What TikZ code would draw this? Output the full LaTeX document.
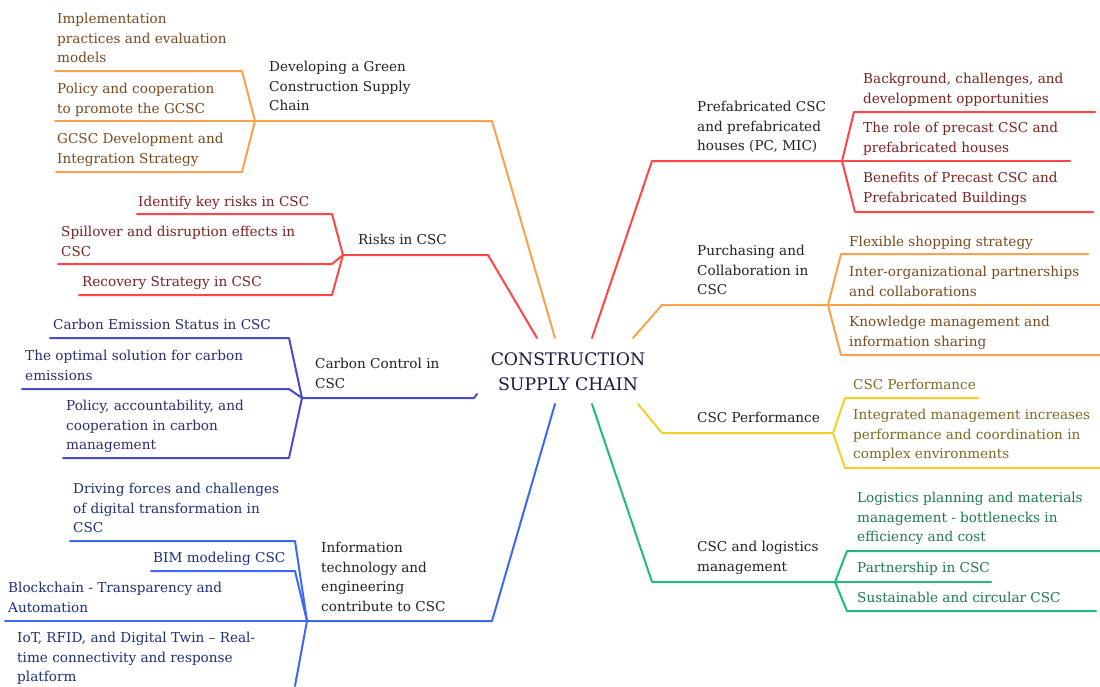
\documentclass[tikz,border=0pt]{standalone}
\usepackage{fontspec}
\setmainfont{DejaVu Serif}
\definecolor{lred}{HTML}{FF4545}
\definecolor{lorange}{HTML}{F9A24E}
\definecolor{lyellow}{HTML}{F5D028}
\definecolor{lgreen}{HTML}{22BB7A}
\definecolor{lblue}{HTML}{3F68F2}
\definecolor{lviolet}{HTML}{4A4AD0}
\definecolor{tbrown}{HTML}{7A4A1F}
\definecolor{tred}{HTML}{7B2222}
\definecolor{tnavy}{HTML}{2D2D6E}
\definecolor{tblue}{HTML}{1F2F7A}
\definecolor{tolive}{HTML}{7A6A22}
\definecolor{tgreen}{HTML}{1F7A50}
\definecolor{tmain}{HTML}{222222}
\definecolor{tcenter}{HTML}{1A1A3A}
\begin{document}
\begin{tikzpicture}[x=1pt,y=-1pt,
  branch/.style={line width=2pt,line join=round,line cap=round},
  leaf/.style={anchor=north west,inner sep=0pt,align=left,
    font=\fontsize{13.6}{19.5}\selectfont},
  topic/.style={leaf,text=tmain}]
\useasboundingbox[fill=white] (0,0) rectangle (1100,686);

% ---------- centre ----------
\node[align=center,text=tcenter,font=\fontsize{17.3}{25}\selectfont] (root) at (568,372)
  {CONSTRUCTION\\SUPPLY CHAIN};

% ---------- Green construction supply chain ----------
\coordinate (gh) at (255,121);
\coordinate (gbend) at (492,121);
\coordinate (groot) at (555,338);
\coordinate (g1a) at (55,71);  \coordinate (g1b) at (242,71);
\coordinate (g2a) at (55,121);
\coordinate (g3a) at (56,172); \coordinate (g3b) at (242,172);
\node[topic] (gt) at (269,61) {Developing a Green\\Construction Supply\\Chain};
\node[leaf,text=tbrown] (g1) at (57,13) {Implementation\\practices and evaluation\\models};
\node[leaf,text=tbrown] (g2) at (57,83) {Policy and cooperation\\to promote the GCSC};
\node[leaf,text=tbrown] (g3) at (57,133) {GCSC Development and\\Integration Strategy};
\begin{scope}[branch,draw=lorange]
  \draw (gh) -- (gbend) -- (groot);
  \draw (g1a) -- (g1b) -- (gh);
  \draw (g2a) -- (gh);
  \draw (g3a) -- (g3b) -- (gh);
\end{scope}

% ---------- Risks ----------
\coordinate (rh) at (343,255);
\coordinate (rbend) at (488,255);
\coordinate (rroot) at (537,338);
\coordinate (r1a) at (137,214); \coordinate (r1b) at (332,214);
\coordinate (r2a) at (58,264);  \coordinate (r2b) at (332,264);
\coordinate (r3a) at (79,295);  \coordinate (r3b) at (332,295);
\node[topic] (rt) at (358,234) {Risks in CSC};
\node[leaf,text=tred] (r1) at (138,196) {Identify key risks in CSC};
\node[leaf,text=tred] (r2) at (61,226) {Spillover and disruption effects in\\CSC};
\node[leaf,text=tred] (r3) at (82,276) {Recovery Strategy in CSC};
\begin{scope}[branch,draw=lred]
  \draw (rh) -- (rbend) -- (rroot);
  \draw (r1a) -- (r1b) -- (rh);
  \draw (r2a) -- (r2b) -- (rh);
  \draw (r3a) -- (r3b) -- (rh);
\end{scope}

% ---------- Carbon control ----------
\coordinate (ch) at (302,398);
\coordinate (cbend) at (474,398);
\coordinate (croot) at (477,394);
\coordinate (c1a) at (50,338);  \coordinate (c1b) at (289,338);
\coordinate (c2a) at (22,389);  \coordinate (c2b) at (289,389);
\coordinate (c3a) at (63,458);  \coordinate (c3b) at (289,458);
\node[topic] (ct) at (315,358) {Carbon Control in\\CSC};
\node[leaf,text=tnavy] (c1) at (53,319) {Carbon Emission Status in CSC};
\node[leaf,text=tnavy] (c2) at (25,350) {The optimal solution for carbon\\emissions};
\node[leaf,text=tnavy] (c3) at (66,400) {Policy, accountability, and\\cooperation in carbon\\management};
\begin{scope}[branch,draw=lviolet]
  \draw (ch) -- (cbend) -- (croot);
  \draw (c1a) -- (c1b) -- (ch);
  \draw (c2a) -- (c2b) -- (ch);
  \draw (c3a) -- (c3b) -- (ch);
\end{scope}

% ---------- Information technology ----------
\coordinate (ih) at (307,621);
\coordinate (ibend) at (492,621);
\coordinate (iroot) at (555,404);
\coordinate (i1a) at (70,541);  \coordinate (i1b) at (295,541);
\coordinate (i2a) at (151,571); \coordinate (i2b) at (295,571);
\coordinate (i3a) at (5,621);
\coordinate (i4b) at (295,686);
\node[topic] (it) at (321,542) {Information\\technology and\\engineering\\contribute to CSC};
\node[leaf,text=tblue] (i1) at (73,483) {Driving forces and challenges\\of digital transformation in\\CSC};
\node[leaf,text=tblue] (i2) at (153,552) {BIM modeling CSC};
\node[leaf,text=tblue] (i3) at (8,582) {Blockchain - Transparency and\\Automation};
\node[leaf,text=tblue] (i4) at (17,632) {IoT, RFID, and Digital Twin – Real-\\time connectivity and response\\platform};
\begin{scope}[branch,draw=lblue]
  \draw (ih) -- (ibend) -- (iroot);
  \draw (i1a) -- (i1b) -- (ih);
  \draw (i2a) -- (i2b) -- (ih);
  \draw (i3a) -- (ih);
  \draw (ih) -- (i4b);
\end{scope}

% ---------- Prefabrication ----------
\coordinate (ph) at (842,161);
\coordinate (pbend) at (652,161);
\coordinate (proot) at (592,338);
\coordinate (p1a) at (854,112); \coordinate (p1b) at (1095,112);
\coordinate (p2b) at (1070,161);
\coordinate (p3a) at (855,212); \coordinate (p3b) at (1093,212);
\node[topic] (pt) at (697,101) {Prefabricated CSC\\and prefabricated\\houses (PC, MIC)};
\node[leaf,text=tred] (p1) at (863,73) {Background, challenges, and\\development opportunities};
\node[leaf,text=tred] (p2) at (863,122) {The role of precast CSC and\\prefabricated houses};
\node[leaf,text=tred] (p3) at (863,172) {Benefits of Precast CSC and\\Prefabricated Buildings};
\begin{scope}[branch,draw=lred]
  \draw (proot) -- (pbend) -- (ph);
  \draw (ph) -- (p1a) -- (p1b);
  \draw (ph) -- (p2b);
  \draw (ph) -- (p3a) -- (p3b);
\end{scope}

% ---------- Purchasing ----------
\coordinate (uh) at (828,305);
\coordinate (ubend) at (662,305);
\coordinate (uroot) at (633,338);
\coordinate (u1a) at (841,254); \coordinate (u1b) at (1088,254);
\coordinate (u2b) at (1100,305);
\coordinate (u3a) at (841,355); \coordinate (u3b) at (1100,355);
\node[topic] (ut) at (697,245) {Purchasing and\\Collaboration in\\CSC};
\node[leaf,text=tbrown] (u1) at (849,236) {Flexible shopping strategy};
\node[leaf,text=tbrown] (u2) at (849,266) {Inter-organizational partnerships\\and collaborations};
\node[leaf,text=tbrown] (u3) at (849,316) {Knowledge management and\\information sharing};
\begin{scope}[branch,draw=lorange]
  \draw (uroot) -- (ubend) -- (uh);
  \draw (uh) -- (u1a) -- (u1b);
  \draw (uh) -- (u2b);
  \draw (uh) -- (u3a) -- (u3b);
\end{scope}

% ---------- Performance ----------
\coordinate (fh) at (833,433);
\coordinate (fbend) at (662,433);
\coordinate (froot) at (638,404);
\coordinate (f1a) at (845,398); \coordinate (f1b) at (978,398);
\coordinate (f2a) at (845,468); \coordinate (f2b) at (1100,468);
\node[topic] (ft) at (697,412) {CSC Performance};
\node[leaf,text=tolive] (f1) at (853,379) {CSC Performance};
\node[leaf,text=tolive] (f2) at (853,409) {Integrated management increases\\performance and coordination in\\complex environments};
\begin{scope}[branch,draw=lyellow]
  \draw (froot) -- (fbend) -- (fh);
  \draw (fh) -- (f1a) -- (f1b);
  \draw (fh) -- (f2a) -- (f2b);
\end{scope}

% ---------- Logistics ----------
\coordinate (lh) at (835,582);
\coordinate (lbend) at (652,582);
\coordinate (lroot) at (592,404);
\coordinate (l1a) at (847,551); \coordinate (l1b) at (1100,551);
\coordinate (l2b) at (991,582);
\coordinate (l3a) at (847,611); \coordinate (l3b) at (1096,611);
\node[topic] (lt) at (697,541) {CSC and logistics\\management};
\node[leaf,text=tgreen] (l1) at (857,492) {Logistics planning and materials\\management - bottlenecks in\\efficiency and cost};
\node[leaf,text=tgreen] (l2) at (857,562) {Partnership in CSC};
\node[leaf,text=tgreen] (l3) at (857,592) {Sustainable and circular CSC};
\begin{scope}[branch,draw=lgreen]
  \draw (lroot) -- (lbend) -- (lh);
  \draw (lh) -- (l1a) -- (l1b);
  \draw (lh) -- (l2b);
  \draw (lh) -- (l3a) -- (l3b);
\end{scope}
\end{tikzpicture}
\end{document}
